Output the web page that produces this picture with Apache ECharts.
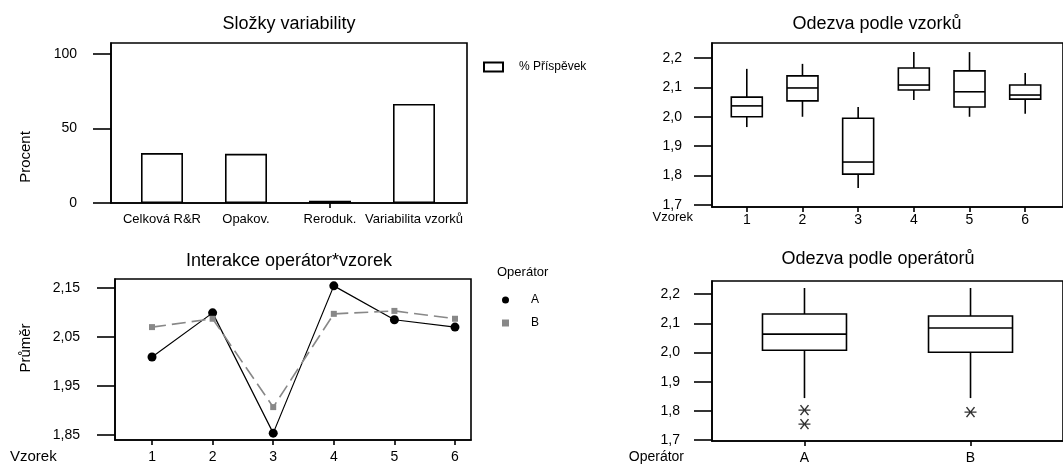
<!DOCTYPE html>
<html>
<head>
<meta charset="utf-8">
<script src="https://cdn.jsdelivr.net/npm/echarts@6/dist/echarts.min.js"></script>
<style>
html,body{margin:0;padding:0;background:#fff;}
#main{width:1063px;height:466px;}
</style>
</head>
<body>
<div id="main"></div>
<script>
// slozky variability
var components = ['Celková R&R', 'Opakov.', 'Reroduk.', 'Variabilita vzorků'];
var contribution = [33.5, 33.0, 1.5, 66.5];
var percentTicks = [0, 50, 100];

// odezva podle vzorku: [min, Q1, median, Q3, max]
var samples = [1, 2, 3, 4, 5, 6];
var sampleBoxes = [
    [1.965, 2.000, 2.037, 2.067, 2.163],
    [2.000, 2.054, 2.098, 2.139, 2.180],
    [1.758, 1.805, 1.846, 1.995, 2.033],
    [2.057, 2.091, 2.108, 2.166, 2.220],
    [2.000, 2.033, 2.085, 2.156, 2.220],
    [2.010, 2.060, 2.074, 2.108, 2.149]
];
var responseTicks = [1.7, 1.8, 1.9, 2.0, 2.1, 2.2];

// interakce operator*vzorek
var meanA = [2.009, 2.099, 1.854, 2.154, 2.085, 2.070];
var meanB = [2.070, 2.087, 1.907, 2.097, 2.103, 2.087];
var meanTicks = [1.85, 1.95, 2.05, 2.15];

// odezva podle operatoru
var operators = ['A', 'B'];
var operatorBoxes = [
    [1.844, 2.008, 2.063, 2.132, 2.221],
    [1.844, 2.001, 2.084, 2.125, 2.221]
];
var outliersA = [1.803, 1.755];
var outliersB = [1.796];

var myChart = echarts.init(document.getElementById('main'));
var font = "'Liberation Sans', Arial, sans-serif";

function comma(d) {
    return function (v) { return v.toFixed(d).replace('.', ','); };
}

/* krabicovy graf bez koncovych carek jako v Minitabu */
function boxRender(halfW) {
    return function (params, api) {
        var x = api.value(0);
        var p = [1, 2, 3, 4, 5].map(function (i) { return api.coord([x, api.value(i)]); });
        var cx = p[0][0];
        var st = { stroke: '#000', lineWidth: 1.6, fill: null };
        return {
            type: 'group',
            children: [
                { type: 'line', shape: { x1: cx, y1: p[4][1], x2: cx, y2: p[3][1] }, style: st },
                { type: 'line', shape: { x1: cx, y1: p[1][1], x2: cx, y2: p[0][1] }, style: st },
                { type: 'rect', shape: { x: cx - halfW, y: p[3][1], width: 2 * halfW, height: p[1][1] - p[3][1] },
                  style: { stroke: '#000', lineWidth: 1.6, fill: '#fff' } },
                { type: 'line', shape: { x1: cx - halfW, y1: p[2][1], x2: cx + halfW, y2: p[2][1] }, style: st }
            ]
        };
    };
}

function yAxisDef(idx, min, max, ticks, fmt, margin) {
    return {
        type: 'value', gridIndex: idx, min: min, max: max,
        splitLine: { show: false },
        axisLine: { show: true, lineStyle: { color: '#000', width: 1.6 } },
        axisTick: { show: true, length: 18, customValues: ticks, lineStyle: { color: '#000', width: 1.6 } },
        axisLabel: { customValues: ticks, formatter: fmt, margin: margin, color: '#000', fontSize: 14, fontFamily: font }
    };
}

function xAxisDef(idx, min, max, ticks, labelTicks, fmt, margin, fs) {
    return {
        type: 'value', gridIndex: idx, min: min, max: max,
        splitLine: { show: false },
        axisLine: { show: true, lineStyle: { color: '#000', width: 1.6 } },
        axisTick: { show: true, length: 5, customValues: ticks, lineStyle: { color: '#000', width: 1.6 } },
        axisLabel: { customValues: labelTicks, formatter: fmt, margin: margin, color: '#000', fontSize: fs, fontFamily: font }
    };
}

var gridStyle = { show: true, borderColor: '#000', borderWidth: 1.6, backgroundColor: '#fff' };

var barData = contribution.map(function (v, i) { return [i + 1, v]; });
var sampleData = sampleBoxes.map(function (b, i) { return [samples[i]].concat(b); });
var operatorData = operatorBoxes.map(function (b, i) { return [i + 1].concat(b); });
var lineA = meanA.map(function (v, i) { return [samples[i], v]; });
var lineB = meanB.map(function (v, i) { return [samples[i], v]; });
var outData = outliersA.map(function (v) { return [1, v]; }).concat(outliersB.map(function (v) { return [2, v]; }));

function txt(x, y, text, size, align, rot) {
    return {
        type: 'text', x: x, y: y, rotation: rot || 0,
        style: { text: text, fontSize: size, fontFamily: font, fill: '#000', align: align || 'center', verticalAlign: 'middle' }
    };
}

myChart.setOption({
    animation: false,
    grid: [
        Object.assign({ left: 111, top: 43, width: 356, height: 160 }, gridStyle),
        Object.assign({ left: 712, top: 43, width: 353, height: 164 }, gridStyle),
        Object.assign({ left: 115, top: 279, width: 356, height: 161 }, gridStyle),
        Object.assign({ left: 712, top: 281, width: 353, height: 160 }, gridStyle)
    ],
    xAxis: [
        xAxisDef(0, 0.393, 4.631, [3], [1, 2, 3, 4], function (v) { return components[v - 1]; }, 10, 13),
        xAxisDef(1, 0.375, 6.679, samples, samples, function (v) { return String(v); }, 6, 14),
        xAxisDef(2, 0.389, 6.264, samples, samples, function (v) { return String(v); }, 10, 14),
        xAxisDef(3, 0.443, 2.557, [1, 2], [1, 2], function (v) { return operators[v - 1]; }, 10, 14)
    ],
    yAxis: [
        yAxisDef(0, 0, 107.4, percentTicks, function (v) { return String(v); }, 34),
        yAxisDef(1, 1.693, 2.251, responseTicks, comma(1), 30),
        yAxisDef(2, 1.840, 2.168, meanTicks, comma(2), 35),
        yAxisDef(3, 1.697, 2.245, responseTicks, comma(1), 32)
    ],
    legend: [
        {
            data: ['% Příspěvek'], left: 478, top: 56, icon: 'rect',
            itemWidth: 19, itemHeight: 9,
            textStyle: { fontSize: 12, fontFamily: font, color: '#000', padding: [0, 0, 0, 11] }
        },
        {
            data: [{ name: 'A', icon: 'circle' }, { name: 'B', icon: 'rect' }],
            orient: 'vertical', left: 497, top: 288, itemGap: 9,
            itemWidth: 7, itemHeight: 7,
            textStyle: { fontSize: 12, fontFamily: font, color: '#000', lineHeight: 14, padding: [0, 0, 0, 17] }
        }
    ],
    graphic: [
        txt(289, 24, 'Složky variability', 18),
        txt(877, 24, 'Odezva podle vzorků', 18),
        txt(289, 261, 'Interakce operátor*vzorek', 18),
        txt(878, 259, 'Odezva podle operátorů', 18),
        txt(26, 157, 'Procent', 15, 'center', Math.PI / 2),
        txt(26, 348, 'Průměr', 15, 'center', Math.PI / 2),
        txt(693, 217, 'Vzorek', 13, 'right'),
        txt(10, 457, 'Vzorek', 15, 'left'),
        txt(684, 457, 'Operátor', 14, 'right'),
        txt(497, 272, 'Operátor', 13, 'left')
    ],
    series: [
        {
            name: '% Příspěvek', type: 'bar', xAxisIndex: 0, yAxisIndex: 0,
            barWidth: 42, data: barData,
            itemStyle: { color: '#fff', borderColor: '#000', borderWidth: 1.6 }
        },
        {
            type: 'custom', xAxisIndex: 1, yAxisIndex: 1,
            renderItem: boxRender(15.5), data: sampleData,
            encode: { x: 0, y: [1, 2, 3, 4, 5] }
        },
        {
            name: 'A', type: 'line', xAxisIndex: 2, yAxisIndex: 2, data: lineA,
            symbol: 'circle', symbolSize: 9,
            itemStyle: { color: '#000' },
            lineStyle: { color: '#000', width: 1.2 }
        },
        {
            name: 'B', type: 'line', xAxisIndex: 2, yAxisIndex: 2, data: lineB,
            symbol: 'rect', symbolSize: 6,
            itemStyle: { color: '#888' },
            lineStyle: { color: '#888', width: 1.6, type: [14, 6] }
        },
        {
            type: 'custom', xAxisIndex: 3, yAxisIndex: 3,
            renderItem: boxRender(42), data: operatorData,
            encode: { x: 0, y: [1, 2, 3, 4, 5] }
        },
        {
            type: 'scatter', xAxisIndex: 3, yAxisIndex: 3, data: outData,
            symbol: 'path://M0,6L12,6M2,1L10,11M2,11L10,1', symbolSize: [12, 10],
            itemStyle: { color: 'rgba(0,0,0,0)', borderColor: '#000', borderWidth: 1.3 }
        }
    ]
});
</script>
</body>
</html>
